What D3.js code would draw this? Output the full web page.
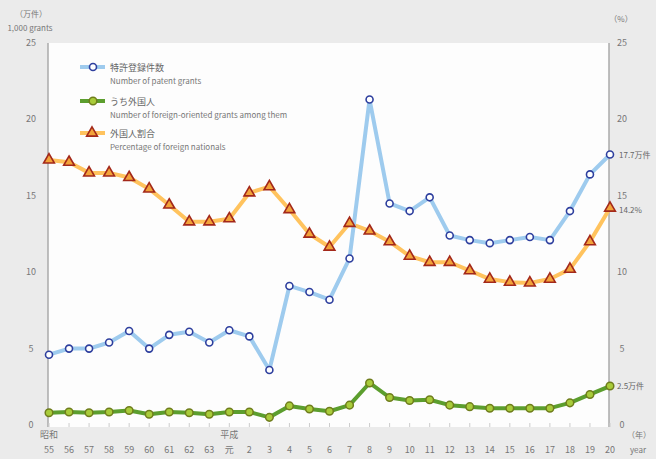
<!DOCTYPE html>
<html><head><meta charset="utf-8">
<script src="https://cdn.jsdelivr.net/npm/d3@7"></script>
<style>body{margin:0;background:#ebebeb;}svg{display:block;}</style>
</head><body>
<script>
const eraLabels = ["昭和","","","","","","","","","平成","","","","","","","","","","","","","","","","","","",""];
const yearLabels = ["55","56","57","58","59","60","61","62","63","元","2","3","4","5","6","7","8","9","10","11","12","13","14","15","16","17","18","19","20"];
const patentGrants = [4.6,5.0,5.0,5.4,6.15,5.0,5.9,6.1,5.4,6.2,5.8,3.6,9.1,8.7,8.2,10.9,21.3,14.5,14.0,14.9,12.4,12.1,11.9,12.1,12.3,12.1,14.0,16.4,17.7];
const foreignGrants = [0.8,0.85,0.8,0.85,0.95,0.7,0.85,0.8,0.7,0.85,0.85,0.5,1.25,1.05,0.9,1.3,2.75,1.8,1.6,1.65,1.3,1.2,1.1,1.1,1.1,1.1,1.45,2.0,2.55];
const foreignPct = [17.35,17.2,16.5,16.5,16.2,15.45,14.4,13.3,13.3,13.5,15.2,15.6,14.1,12.5,11.65,13.2,12.7,12.0,11.05,10.65,10.65,10.1,9.55,9.35,9.3,9.55,10.2,12.0,14.2];
const leftTicks = [0,5,10,15,20,25];
const rightTicks = [0,5,10,15,20,25];

const W=656,H=459;
const svg=d3.select("body").append("svg").attr("width",W).attr("height",H)
  .style("font-family","'Noto Sans CJK JP','Noto Sans',sans-serif");
svg.append("rect").attr("width",W).attr("height",H).attr("fill","#ebebeb");
const L=48,R=609,T=43,B=425;
svg.append("rect").attr("x",L).attr("y",T).attr("width",R-L).attr("height",B-T+2).attr("fill","#fdfdfd");

const x=d3.scalePoint().domain(yearLabels.map((d,i)=>i)).range([L+1,R+1]);
const y=d3.scaleLinear().domain([0,25]).range([B,T]);
const y2=d3.scaleLinear().domain([0,25]).range([B,T]);

svg.append("line").attr("x1",L).attr("x2",L).attr("y1",T).attr("y2",B+2).attr("stroke","#aaa").attr("stroke-width",1.5);
svg.append("line").attr("x1",R).attr("x2",R).attr("y1",T).attr("y2",B+2).attr("stroke","#aaa").attr("stroke-width",1.5);
svg.append("g").selectAll("line").data(yearLabels.map((d,i)=>i)).join("line")
  .attr("x1",d=>x(d)).attr("x2",d=>x(d)).attr("y1",B-2).attr("y2",B+2).attr("stroke","#ccc");

const lg=svg.append("g").attr("font-size",9).attr("fill","#777");
lg.selectAll("text.l").data(leftTicks).join("text").attr("x",31).attr("y",d=>y(d)+3).attr("text-anchor","middle").text(d=>d);
lg.selectAll("text.r").data(rightTicks).join("text").attr("x",622).attr("y",d=>y2(d)+3).attr("text-anchor","middle").text(d=>d);
lg.append("text").attr("x",31).attr("y",17).attr("text-anchor","middle").attr("font-size",8).text("（万件）");
lg.append("text").attr("x",30).attr("y",31).attr("text-anchor","middle").attr("font-size",8).text("1,000 grants");
lg.append("text").attr("x",621).attr("y",22).attr("text-anchor","middle").attr("font-size",8).text("（%）");

const xl=svg.append("g").attr("font-size",9).attr("fill","#777").attr("text-anchor","middle");
xl.selectAll("text.e").data(eraLabels.map((d,i)=>[d,i]).filter(d=>d[0])).join("text")
  .attr("x",d=>x(d[1])).attr("y",438).text(d=>d[0]);
xl.selectAll("text.y").data(yearLabels.map((d,i)=>[d,i])).join("text")
  .attr("x",d=>x(d[1])).attr("y",453).text(d=>d[0]);
xl.append("text").attr("x",639).attr("y",438).attr("font-size",8).text("（年）");
xl.append("text").attr("x",638).attr("y",453).attr("font-size",8).text("year");

const line=(data,sc)=>d3.line().x((d,i)=>x(i)).y(d=>sc(d))(data);

svg.append("path").attr("d",line(foreignPct,y2)).attr("fill","none").attr("stroke","#ffc35e").attr("stroke-width",4).attr("stroke-linejoin","round");
svg.append("path").attr("d",line(patentGrants,y)).attr("fill","none").attr("stroke","#9ecbee").attr("stroke-width",4).attr("stroke-linejoin","round");
svg.append("path").attr("d",line(foreignGrants,y)).attr("fill","none").attr("stroke","#5c9e2e").attr("stroke-width",4).attr("stroke-linejoin","round");

const tri=d3.symbol().type(d3.symbolTriangle).size(50);
svg.append("g").selectAll("path").data(foreignPct).join("path")
  .attr("d",tri).attr("transform",(d,i)=>`translate(${x(i)},${y2(d)})`)
  .attr("fill","#f2a33a").attr("stroke","#a3281a").attr("stroke-width",1.6);
svg.append("g").selectAll("circle").data(patentGrants).join("circle")
  .attr("cx",(d,i)=>x(i)).attr("cy",d=>y(d)).attr("r",3.5)
  .attr("fill","#fff").attr("stroke","#2e3f9e").attr("stroke-width",1.6);
svg.append("g").selectAll("circle").data(foreignGrants).join("circle")
  .attr("cx",(d,i)=>x(i)).attr("cy",d=>y(d)).attr("r",3.8)
  .attr("fill","#a9cc3a").attr("stroke","#6f7d1c").attr("stroke-width",1.5);

const el=svg.append("g").attr("font-size",8).attr("fill","#666");
el.append("text").attr("x",619).attr("y",y(patentGrants[28])+3).text("17.7万件");
el.append("text").attr("x",619).attr("y",y2(foreignPct[28])+5).text("14.2%");
el.append("text").attr("x",617).attr("y",y(foreignGrants[28])+3).text("2.5万件");

const leg=[
 {jp:"特許登録件数",en:"Number of patent grants",y:67,c:"#9ecbee",m:"c"},
 {jp:"うち外国人",en:"Number of foreign-oriented grants among them",y:101,c:"#5c9e2e",m:"g"},
 {jp:"外国人割合",en:"Percentage of foreign nationals",y:133,c:"#ffc35e",m:"t"}];
const lgd=svg.append("g");
leg.forEach(e=>{
  lgd.append("line").attr("x1",80).attr("x2",105).attr("y1",e.y).attr("y2",e.y).attr("stroke",e.c).attr("stroke-width",4);
  if(e.m==="c") lgd.append("circle").attr("cx",93).attr("cy",e.y).attr("r",3.5).attr("fill","#fff").attr("stroke","#2e3f9e").attr("stroke-width",1.6);
  if(e.m==="g") lgd.append("circle").attr("cx",93).attr("cy",e.y).attr("r",3.8).attr("fill","#a9cc3a").attr("stroke","#6f7d1c").attr("stroke-width",1.5);
  if(e.m==="t") lgd.append("path").attr("d",tri).attr("transform",`translate(92,${e.y})`).attr("fill","#f2a33a").attr("stroke","#a3281a").attr("stroke-width",1.6);
  lgd.append("text").attr("x",110).attr("y",e.y+4).attr("font-size",9).attr("fill","#666").text(e.jp);
  lgd.append("text").attr("x",110).attr("y",e.y+17).attr("font-size",8).attr("fill","#777").text(e.en);
});
</script>
</body></html>
